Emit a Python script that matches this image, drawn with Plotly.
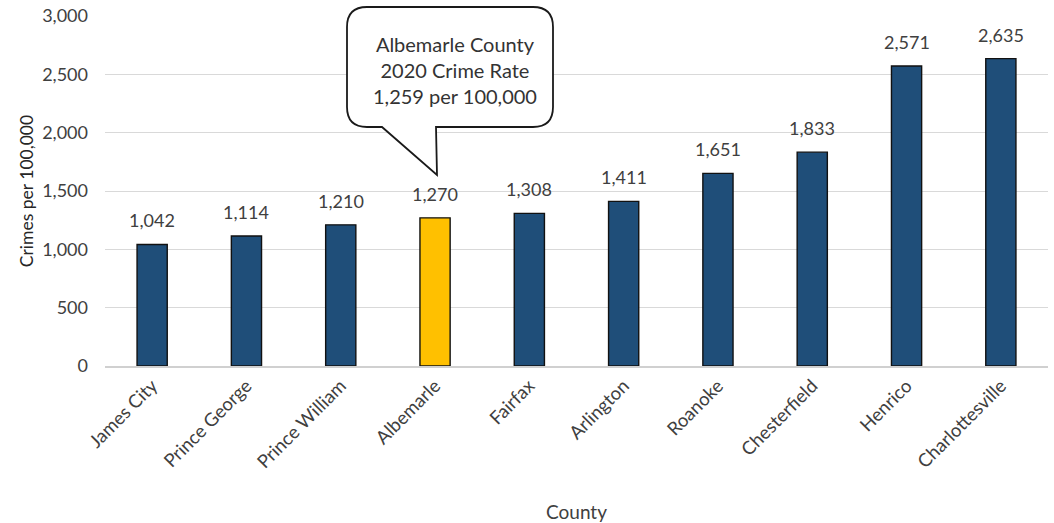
import plotly.graph_objects as go

counties = ["James City", "Prince George", "Prince William", "Albemarle", "Fairfax",
            "Arlington", "Roanoke", "Chesterfield", "Henrico", "Charlottesville"]
rates = [1042, 1114, 1210, 1270, 1308, 1411, 1651, 1833, 2571, 2635]
highlight = "Albemarle"
y_ticks = [0, 500, 1000, 1500, 2000, 2500, 3000]
callout_lines = ["Albemarle County", "2020 Crime Rate", "1,259 per 100,000"]

W, H = 1054, 523
ML, MR, MT, MB = 105, 6, 16, 157
PW, PH = W - ML - MR, H - MT - MB

FONT = "Lato, 'Open Sans', sans-serif"
TXT = "#404040"

colors = ["#FFC000" if c == highlight else "#1F4E79" for c in counties]

fig = go.Figure(go.Bar(
    x=counties, y=rates,
    marker=dict(color=colors, line=dict(color="#111111", width=1.4)),
    width=0.32,
    cliponaxis=False,
))

# value labels above each bar
for c, v in zip(counties, rates):
    fig.add_annotation(
        x=c, y=v, xref="x", yref="y", text=f"{v:,}", showarrow=False,
        yanchor="bottom", yshift=11,
        font=dict(size=18, color=TXT, family=FONT),
    )


def px(x):
    return (x - ML) / PW


def py(y):
    return (H - MB - y) / PH


# speech-bubble callout (pixel geometry converted to paper units)
x0, x1, y0, y1, r = 347, 553, 7, 127, 20
tail_l, tail_r, tip_x, tip_y = 382, 436, 437, 175
pts = [
    f"M {px(x0 + r)},{py(y0)}",
    f"L {px(x1 - r)},{py(y0)}",
    f"Q {px(x1)},{py(y0)} {px(x1)},{py(y0 + r)}",
    f"L {px(x1)},{py(y1 - r)}",
    f"Q {px(x1)},{py(y1)} {px(x1 - r)},{py(y1)}",
    f"L {px(tail_r)},{py(y1)}",
    f"L {px(tip_x)},{py(tip_y)}",
    f"L {px(tail_l)},{py(y1)}",
    f"L {px(x0 + r)},{py(y1)}",
    f"Q {px(x0)},{py(y1)} {px(x0)},{py(y1 - r)}",
    f"L {px(x0)},{py(y0 + r)}",
    f"Q {px(x0)},{py(y0)} {px(x0 + r)},{py(y0)}",
    "Z",
]
fig.add_shape(type="path", path=" ".join(pts), xref="paper", yref="paper",
              line=dict(color="#1a1a1a", width=1.8), fillcolor="white", layer="above")

fig.add_annotation(
    x=px((x0 + x1) / 2 + 5), y=py(70), xref="paper", yref="paper",
    xanchor="center", yanchor="middle",
    text="<br>".join(callout_lines), showarrow=False,
    font=dict(size=20, color="#333333", family=FONT), align="center",
)

fig.update_layout(
    width=W, height=H,
    margin=dict(l=ML, r=MR, t=MT, b=MB, autoexpand=False),
    paper_bgcolor="white", plot_bgcolor="white",
    showlegend=False,
    font=dict(family=FONT, color=TXT),
    xaxis=dict(
        automargin=False,
        tickangle=-45, tickfont=dict(size=18.5, color=TXT),
        showgrid=False, showline=True, linecolor="#D0D0D0", linewidth=1.5,
        ticks="",
        title=dict(text="County", font=dict(size=19, color=TXT), standoff=34),
    ),
    yaxis=dict(
        automargin=False,
        range=[0, 3000], tickvals=y_ticks, tickformat=",",
        tickfont=dict(size=18, color=TXT), ticklabelstandoff=16,
        showgrid=True, gridcolor="#D9D9D9", gridwidth=1.2,
        zeroline=False, showline=False, ticks="",
        title=dict(text="Crimes per 100,000", font=dict(size=17.5, color="#262626"), standoff=4),
    ),
)

fig.write_html("out.html")
